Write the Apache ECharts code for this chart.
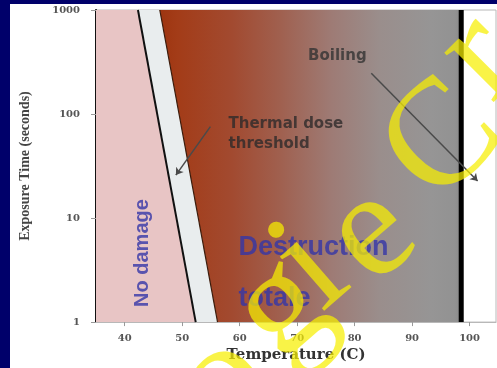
<!DOCTYPE html>
<html><head><meta charset="utf-8">
<script src="https://cdn.jsdelivr.net/npm/echarts@6/dist/echarts.min.js"></script>
<style>html,body{margin:0;padding:0;background:#00006a;width:497px;height:368px;overflow:hidden}
#c{position:absolute;left:10px;top:4px;width:487px;height:364px}</style></head>
<body><div id="c"></div>
<script>
// ---- data (temperature °C, exposure time s) ----
const xTicks = [40, 50, 60, 70, 80, 90, 100];
const noDamage = [[35, 1], [35, 1000], [42.3, 1000], [52.35, 1]];
const thresholdBand = [[42.3, 1000], [46.1, 1000], [56.15, 1], [52.35, 1]];
const destruction = [[46.1, 1000], [98.55, 1000], [98.55, 1], [56.15, 1]];
const thresholdLine = [[42.3, 1000], [52.35, 1]];
const destructionEdge = [[46.1, 1000], [56.15, 1]];
const boilingLine = [[98.55, 1], [98.55, 1000]];
const boilingArrow = [[82.9, 247], [101.4, 22.7]];
const thresholdArrow = [[54.9, 75.7], [48.9, 25.9]];
const labelBoiling = [77, 358];
const labelThreshold = [58.06, 63.6];
const labelNoDamage = [43.15, 4.61];
const labelDestruction = [59.8, 2.94];
// watermark letters, anchored in data space
const watermarkChars = ['B', 'i', 'o', 'l', 'o', 'g', 'i', 'e', 'C', 'r'];
const watermarkX = [24.58, 34.03, 41.77, 49.49, 57.21, 67.30, 72.51, 83.01, 95.64, 102.01];
const watermarkY = [0.0071, 0.01993, 0.04643, 0.1082, 0.2523, 1.328, 3.255, 6.877, 52.96, 345.0];
const watermarkRot = [41, 41, 41, 41, 41, 41, 41, 41, 45, 45];

function poly(name, pts, style, z) {
  return {
    type: 'custom', name: name, z: z, silent: true, data: pts,
    renderItem: function (params, api) {
      if (params.dataIndex !== 0) return null;
      return { type: 'polygon', shape: { points: pts.map(function (p) { return api.coord(p); }) }, style: style };
    }
  };
}
function seg(name, pts, color, width, z) {
  return { type: 'line', name: name, data: pts, symbol: 'none', z: z, silent: true,
    lineStyle: { color: color, width: width }, animation: false };
}
function arrow(name, pts) {
  return { type: 'lines', name: name, coordinateSystem: 'cartesian2d', z: 6, silent: true,
    symbol: ['none', 'arrow'], symbolSize: 7,
    lineStyle: { color: '#4a4a4a', width: 1.5, opacity: 1, curveness: 0 },
    data: [{ coords: pts }] };
}

const watermarkData = watermarkChars.map(function (ch, i) {
  return { value: [watermarkX[i], watermarkY[i]], label: { formatter: ch, rotate: watermarkRot[i] } };
});

const chart = echarts.init(document.getElementById('c'), null, { renderer: 'canvas' });
chart.setOption({
  backgroundColor: '#ffffff',
  animation: false,
  grid: { left: 85, top: 6, width: 401, height: 316, show: true, borderColor: '#b8b8b8', borderWidth: 1, backgroundColor: '#ffffff' },
  xAxis: {
    type: 'value', min: 35, max: 104.6,
    name: 'Temperature (C)', nameLocation: 'middle', nameGap: 25,
    nameTextStyle: { fontFamily: 'DejaVu Serif', fontWeight: 'bold', fontSize: 15, color: '#333' },
    axisLine: { show: true, onZero: false, lineStyle: { color: '#b8b8b8', width: 1 } },
    axisTick: { show: true, customValues: xTicks, length: 4, inside: false, lineStyle: { color: '#999' } },
    axisLabel: { customValues: xTicks, margin: 11, fontFamily: 'DejaVu Serif', fontWeight: 'bold', fontSize: 10, color: '#555' },
    splitLine: { show: false }
  },
  yAxis: {
    type: 'log', logBase: 10, min: 1, max: 1000,
    name: 'Exposure Time (seconds)', nameLocation: 'middle', nameGap: 64,
    nameTextStyle: { fontFamily: 'Liberation Serif', fontWeight: 'bold', fontSize: 14, color: '#444' },
    axisLine: { show: true, lineStyle: { color: '#111', width: 2 } },
    axisTick: { show: true, length: 5, lineStyle: { color: '#999' } },
    axisLabel: { margin: 16, fontFamily: 'DejaVu Serif', fontWeight: 'bold', fontSize: 10, color: '#555',
      formatter: function (v) { return String(v); } },
    splitLine: { show: false }, minorTick: { show: false }
  },
  series: [
    poly('No damage', noDamage, { fill: '#e8c5c5' }, 1),
    poly('Threshold band', thresholdBand, { fill: '#e9edee' }, 1),
    poly('Destruction', destruction, {
      fill: { type: 'linear', x: 0, y: 0, x2: 1, y2: 0, colorStops: [
        { offset: 0, color: '#9e3510' }, { offset: 0.06, color: '#a33c18' },
        { offset: 0.24, color: '#a24a30' }, { offset: 0.4, color: '#a0604f' },
        { offset: 0.57, color: '#9e7b75' }, { offset: 0.73, color: '#9a8e8c' },
        { offset: 0.9, color: '#969595' }, { offset: 0.98, color: '#929292' }, { offset: 1, color: '#888888' }] }
    }, 1),
    seg('Thermal dose threshold', thresholdLine, '#111', 2, 3),
    seg('Destruction edge', destructionEdge, '#3b1c0c', 1.2, 3),
    seg('Boiling', boilingLine, '#000', 5, 4),
    arrow('Boiling arrow', boilingArrow),
    arrow('Threshold arrow', thresholdArrow),
    {
      type: 'scatter', symbolSize: 0, z: 7, silent: true,
      data: [
        { value: labelBoiling, label: { show: true, position: 'inside', formatter: 'Boiling', fontFamily: 'DejaVu Sans', fontWeight: 'bold', fontSize: 15, color: '#333' } },
        { value: labelThreshold, label: { show: true, position: 'inside', align: 'left', formatter: 'Thermal dose\nthreshold', lineHeight: 20, fontFamily: 'DejaVu Sans', fontWeight: 'bold', fontSize: 15, color: '#2e2a2a' } },
        { value: labelNoDamage, label: { show: true, position: 'inside', rotate: 90, formatter: 'No damage', fontFamily: 'Liberation Sans', fontWeight: 'bold', fontSize: 20, color: '#3436a8' } },
        { value: labelDestruction, label: { show: true, position: 'inside', align: 'left', formatter: 'Destruction\ntotale', lineHeight: 51, fontFamily: 'Liberation Sans', fontWeight: 'bold', fontSize: 27, color: '#3436a8' } }
      ]
    },
    {
      type: 'scatter', name: 'watermark', symbolSize: 0, z: 50, silent: true, clip: false,
      label: { show: true, position: 'inside', fontFamily: 'Liberation Serif', fontWeight: 'normal', fontSize: 152, lineHeight: 152,
        color: 'rgba(246,238,0,0.9)', align: 'center', verticalAlign: 'middle' },
      data: watermarkData
    }
  ]
});
</script></body></html>
